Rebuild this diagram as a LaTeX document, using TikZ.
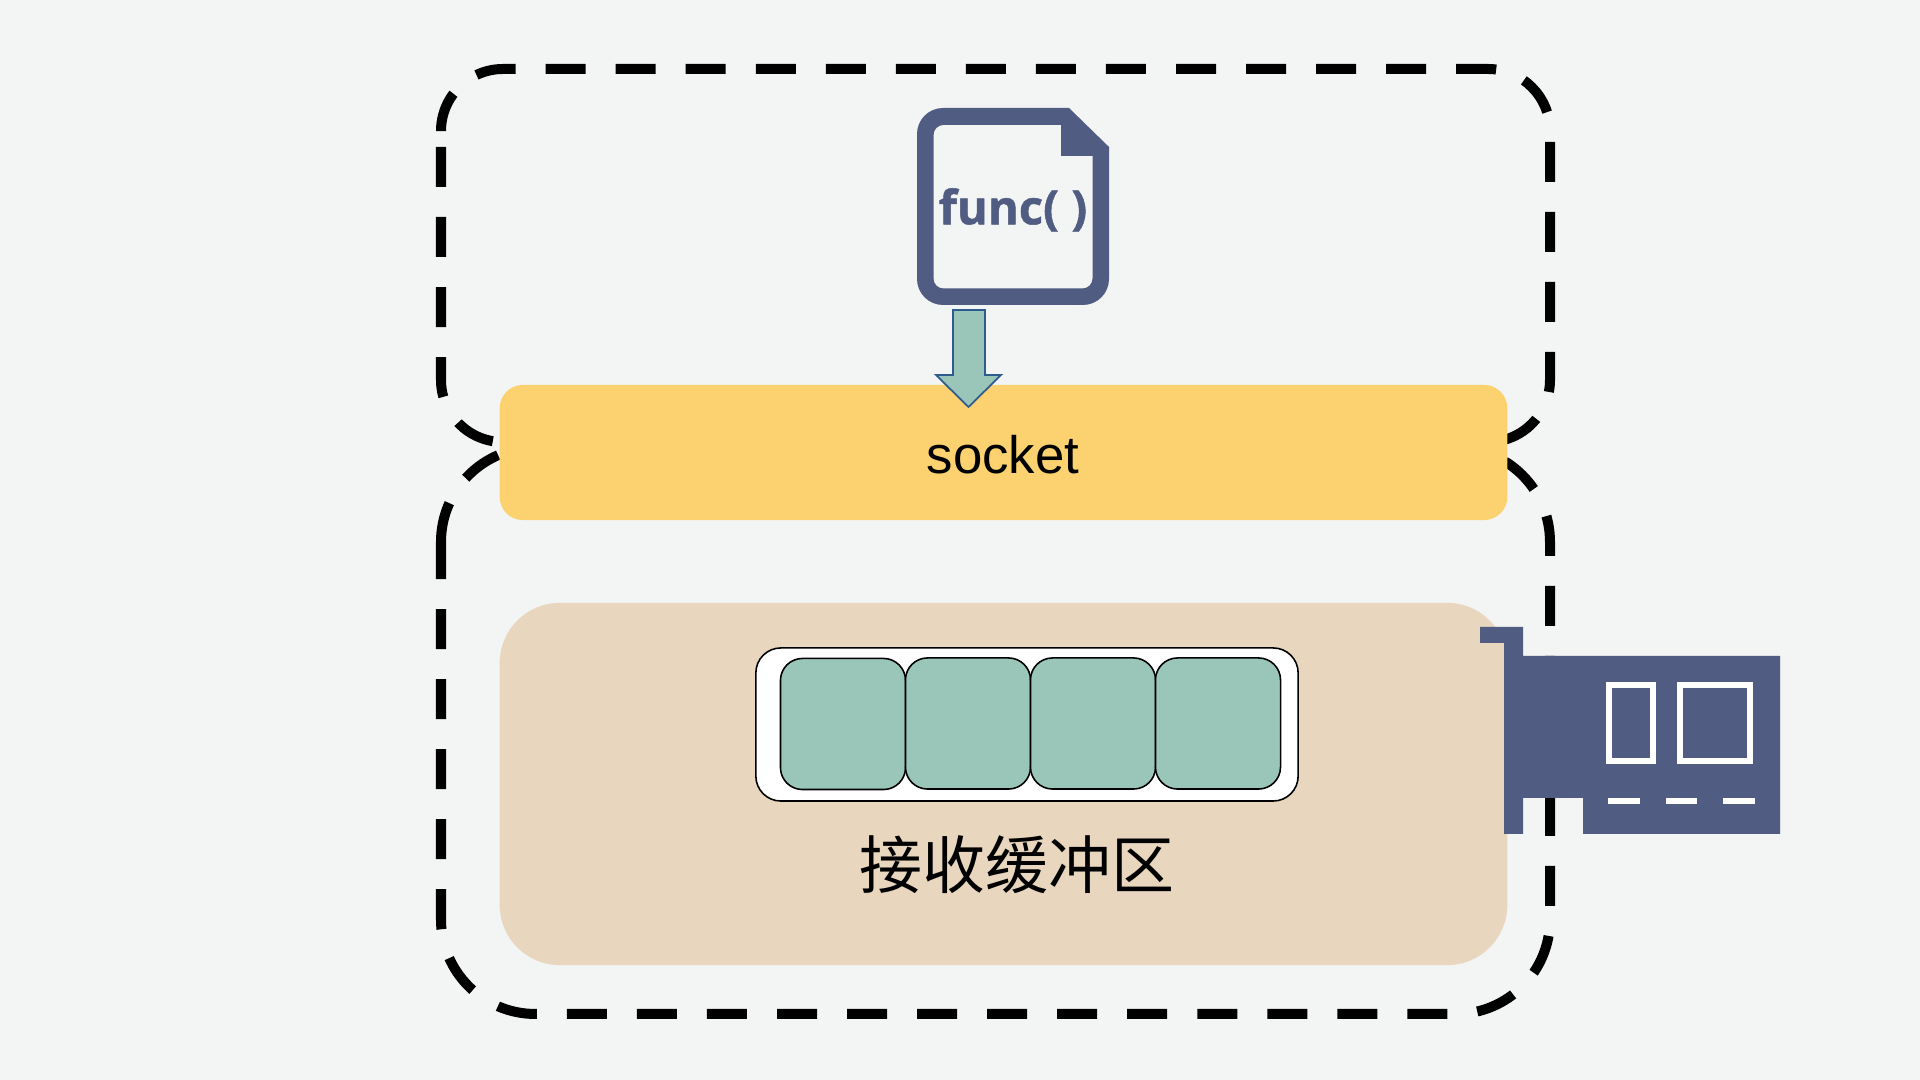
\documentclass[tikz,border=0pt]{standalone}
\usepackage{fontspec}
\setmainfont{Liberation Sans}
\newfontfamily\funcfont[FakeBold=1]{Open Sans Bold}
\newfontfamily\cjk{Noto Sans CJK SC}
\definecolor{pagegray}{HTML}{F3F4F4}
\definecolor{nicblue}{HTML}{505C82}
\definecolor{cellgreen}{HTML}{9AC6B9}
\definecolor{socketyellow}{HTML}{FBD26F}
\definecolor{bufbeige}{HTML}{E8D6BF}
\definecolor{arrowedge}{HTML}{2F5C8F}
\tikzset{
    hostline/.style={line width=0.1cm, dash pattern=on 0.4cm off 0.3cm},
    panel/.style={inner sep=0pt, anchor=center},
    bufcell/.style={panel, draw=black, line width=0.45pt, fill=cellgreen, minimum width=1.25cm, minimum height=1.31cm, rounded corners=0.22cm},
    nicport/.style={draw=white, line width=0.055cm},
    nicpin/.style={fill=white},
}
\begin{document}
\begin{tikzpicture}[x=0.01cm,y=-0.01cm]
\fill[pagegray] (0,0) rectangle (1920,1080);

% upper and lower dashed outlines, both begin on the left side
\draw[hostline, rounded corners=0.62cm] (441,131)--(441,69)--(1550,69)--(1550,442)--(441,442)--(441,131);
\draw[hostline, rounded corners=0.944cm] (441,542)--(441,447.5)--(1550,447.5)--(1550,1014)--(441,1014)--(441,542);

\node[panel, fill=socketyellow, minimum width=10.07cm, minimum height=1.35cm, rounded corners=0.23cm] (socket) at (1003.5,452.5) {};
\node[font=\fontsize{15pt}{18pt}\selectfont] (socketlabel) at (1003,455) {socket};

\node[panel, fill=bufbeige, minimum width=10.07cm, minimum height=3.62cm, rounded corners=0.6cm] (rxarea) at (1003.5,784) {};
\node[panel, draw=black, line width=0.45pt, fill=white, minimum width=5.42cm, minimum height=1.53cm, rounded corners=0.25cm] (rxqueue) at (1027,724.5) {};
\node[bufcell] (cellA) at (843,724) {};
\node[bufcell] (cellB) at (968,723.5) {};
\node[bufcell] (cellC) at (1093,723.5) {};
\node[bufcell] (cellD) at (1218,723.5) {};
\node[font=\cjk\fontsize{17.9pt}{20pt}\selectfont] (rxlabel) at (1017,865) {接收缓冲区};

% program file
\fill[nicblue, even odd rule, rounded corners=0.26cm] (917,108)[sharp corners]--(1069,108)--(1109,147)[rounded corners=0.26cm]--(1109,305)--(917,305)--cycle
    [rounded corners=0.1cm] (933.5,125)--(933.5,288.5)--(1092.5,288.5)[sharp corners]--(1092.5,156)--(1061,156)--(1061,125)[rounded corners=0.1cm]--cycle;
\node[text=nicblue, font=\funcfont\fontsize{13.4pt}{18pt}\selectfont] (funclabel) at (1013,210) {func( )};

\draw[arrowedge, fill=cellgreen, line width=0.5pt] (953,310)--(985,310)--(985,375)--(1001,375)--(968.5,407)--(936,375)--(953,375)--cycle;

% network card
\fill[nicblue] (1480,627)--(1523,627)--(1523,656)--(1780,656)--(1780,834)--(1583,834)--(1583,798)--(1523,798)--(1523,834)--(1504,834)--(1504,643)--(1480,643)--cycle;
\draw[nicport] (1609,685) rectangle (1653,761);
\draw[nicport] (1680,685) rectangle (1750,761);
\foreach \px in {1608,1665.5,1723}
    \fill[nicpin] (\px,798) rectangle (\px+31.5,804);
\end{tikzpicture}
\end{document}
